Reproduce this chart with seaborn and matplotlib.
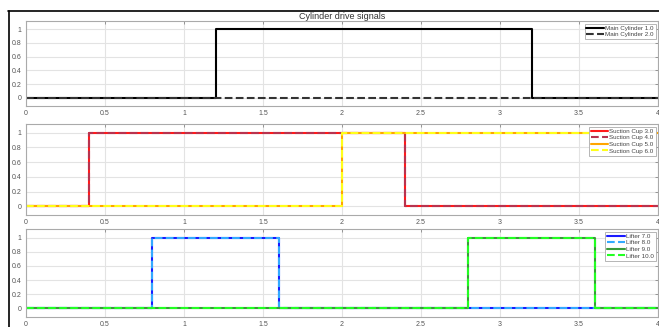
import numpy as np
import pandas as pd
import matplotlib
matplotlib.use("Agg")
import matplotlib.pyplot as plt
from matplotlib.lines import Line2D
import seaborn as sns

# ---- data ----
time = [0.0, 0.4, 0.8, 1.2, 1.6, 2.0, 2.4, 2.8, 3.2, 3.6, 4.0]

main_cyl_1 = [0, 0, 0, 1, 1, 1, 1, 1, 0, 0, 0]
main_cyl_2 = [0, 0, 0, 0, 0, 0, 0, 0, 0, 0, 0]

suction_3 = [0, 1, 1, 1, 1, 1, 0, 0, 0, 0, 0]
suction_4 = [0, 1, 1, 1, 1, 1, 0, 0, 0, 0, 0]
suction_5 = [0, 0, 0, 0, 0, 1, 1, 1, 1, 1, 1]
suction_6 = [0, 0, 0, 0, 0, 1, 1, 1, 1, 1, 1]

lifter_7 = [0, 0, 1, 1, 0, 0, 0, 0, 0, 0, 0]
lifter_8 = [0, 0, 1, 1, 0, 0, 0, 0, 0, 0, 0]
lifter_9 = [0, 0, 0, 0, 0, 0, 0, 1, 1, 0, 0]
lifter_10 = [0, 0, 0, 0, 0, 0, 0, 1, 1, 0, 0]

title = "Cylinder drive signals"
x_ticks = [0, 0.5, 1, 1.5, 2, 2.5, 3, 3.5, 4]
x_tick_labels = ["0", "0.5", "1", "1.5", "2", "2.5", "3", "3.5", "4"]
y_ticks = [0, 0.2, 0.4, 0.6, 0.8, 1.0]
y_tick_labels = ["0", "0.2", "0.4", "0.6", "0.8", "1"]

panels = [
    [("Main Cylinder 1.0", main_cyl_1, "#000000", "-"),
     ("Main Cylinder 2.0", main_cyl_2, "#333333", "--")],
    [("Suction Cup 3.0", suction_3, "#ff1a1a", "-"),
     ("Suction Cup 4.0", suction_4, "#b8334f", "--"),
     ("Suction Cup 5.0", suction_5, "#ffa500", "-"),
     ("Suction Cup 6.0", suction_6, "#ffff1a", "--")],
    [("Lifter 7.0", lifter_7, "#1a1aff", "-"),
     ("Lifter 8.0", lifter_8, "#33aaff", "--"),
     ("Lifter 9.0", lifter_9, "#3a9a3a", "-"),
     ("Lifter 10.0", lifter_10, "#22ff22", "--")],
]

# ---- style ----
sns.set_style("white")
plt.rcParams["font.family"] = ["Liberation Sans", "DejaVu Sans"]

W, H = 659, 327
fig = plt.figure(figsize=(W / 100, H / 100), dpi=100)

# axes rectangles in pixels: (left, top, right, bottom)
rects = [(26, 21, 658, 106), (26, 124, 658, 215), (26, 229, 658, 317)]
axes = []
for (l, t, r, b) in rects:
    ax = fig.add_axes([l / W, 1 - b / H, (r - l) / W, (b - t) / H])
    axes.append(ax)

spine_col = "#aaaaaa"
for ax, series in zip(axes, panels):
    for name, vals, col, ls in series:
        df = pd.DataFrame({"t": time, "v": vals})
        sns.lineplot(data=df, x="t", y="v", ax=ax, color=col, linestyle=ls,
                     linewidth=1.5, drawstyle="steps-post", label=name,
                     estimator=None, errorbar=None)
    ax.set_xlim(0, 4)
    ax.set_ylim(-0.12, 1.12)
    ax.set_xticks(x_ticks)
    ax.set_xticklabels(x_tick_labels)
    ax.set_yticks(y_ticks)
    ax.set_yticklabels(y_tick_labels)
    ax.set_xlabel("")
    ax.set_ylabel("")
    ax.grid(True, color="#e3e3e3", linewidth=0.8)
    ax.set_axisbelow(True)
    for s in ax.spines.values():
        s.set_color(spine_col)
        s.set_linewidth(0.8)
    ax.tick_params(direction="in", length=2.5, width=0.6, color="#888888",
                   labelsize=5, labelcolor="#555555", pad=3,
                   right=True, top=True)
    leg = ax.legend(loc="upper right", fontsize=4.5, frameon=True,
                    fancybox=False, framealpha=1, edgecolor=spine_col,
                    handlelength=2.8, handletextpad=0.2, labelspacing=0.2,
                    borderpad=0.3, borderaxespad=0.4)
    leg.get_frame().set_linewidth(0.6)
    for txt in leg.get_texts():
        txt.set_color("#444444")

axes[0].set_title(title, fontsize=6.5, color="#333333", pad=1.5)

# black window frame (screenshot border)
fig.add_artist(Line2D([8 / W, 1], [1 - 11 / H, 1 - 11 / H], color="black",
                      linewidth=1.2, transform=fig.transFigure))
fig.add_artist(Line2D([9 / W, 9 / W], [0, 1 - 11 / H], color="black",
                      linewidth=1.2, transform=fig.transFigure))

fig.savefig("out.png", dpi=100)
